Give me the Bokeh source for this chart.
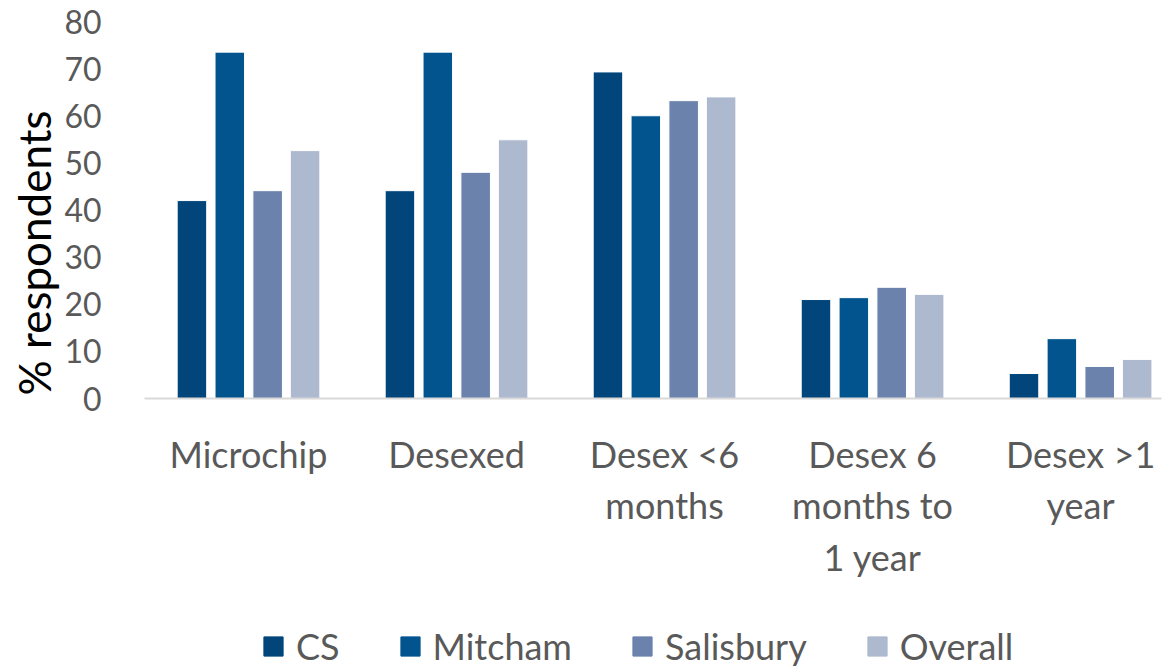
from bokeh.plotting import figure
from bokeh.models import ColumnDataSource, FixedTicker, Legend, LegendItem, Title
from bokeh.transform import dodge
from bokeh.layouts import column
from bokeh.embed import file_html
from bokeh.resources import INLINE

categories = ["Microchip", "Desexed", "Desex <6\nmonths", "Desex 6\nmonths to\n1 year", "Desex >1\nyear"]
series = ["CS", "Mitcham", "Salisbury", "Overall"]
cs = [42.0, 44.1, 69.3, 21.0, 5.3]
mitcham = [73.5, 73.5, 60.0, 21.4, 12.7]
salisbury = [44.1, 48.0, 63.2, 23.6, 6.8]
overall = [52.6, 54.9, 64.0, 22.1, 8.3]
colors = ["#01457A", "#02548F", "#6B82AD", "#ADB9CE"]

xpos = [i + 0.5 for i in range(len(categories))]
src = ColumnDataSource(dict(x=xpos, CS=cs, Mitcham=mitcham, Salisbury=salisbury, Overall=overall))

FONT = "Lato"
TXT = "#595959"

p = figure(width=1165, height=606, x_range=(0, 4.889), y_range=(0, 80),
           output_backend="svg", toolbar_location=None,
           min_border_left=144, min_border_top=21, min_border_right=4, min_border_bottom=208)
p.outline_line_color = None
p.grid.visible = False

offsets = [-0.272, -0.090, 0.092, 0.272]
for s, c, off in zip(series, colors, offsets):
    p.vbar(x=dodge("x", off), top=s, width=0.142, source=src,
           fill_color=c, line_color="white", line_width=1)

# x axis
p.xaxis.ticker = FixedTicker(ticks=xpos)
p.xaxis.major_label_overrides = {x: c for x, c in zip(xpos, categories)}
p.xaxis.axis_line_color = "#D9D9D9"
p.xaxis.axis_line_width = 2
p.xaxis.major_tick_line_color = None
p.xaxis.minor_tick_line_color = None
p.xaxis.major_label_text_font = FONT
p.xaxis.major_label_text_font_size = "36px"
p.xaxis.major_label_text_color = TXT
p.xaxis.major_label_standoff = 27
p.xaxis.major_label_text_line_height = 1.18

# y axis
p.yaxis.ticker = FixedTicker(ticks=list(range(0, 81, 10)))
p.yaxis.axis_line_color = None
p.yaxis.major_tick_line_color = None
p.yaxis.minor_tick_line_color = None
p.yaxis.major_label_text_font = FONT
p.yaxis.major_label_text_font_size = "32px"
p.yaxis.major_label_text_color = TXT
p.yaxis.major_label_standoff = 37

ytitle = Title(text="% respondents", align="left", offset=3,
               text_font=FONT, text_font_size="44px", text_font_style="normal",
               text_color="#000000", standoff=4)
p.add_layout(ytitle, "left")

# legend strip below the chart (same side borders so frames align)
p2 = figure(width=1165, height=62, x_range=(0, 1), y_range=(0, 1),
            output_backend="svg", toolbar_location=None,
            x_axis_type=None, y_axis_type=None,
            min_border_left=144, min_border_right=4, min_border_top=19, min_border_bottom=0)
p2.outline_line_color = None
p2.grid.visible = False
items = []
for s, c in zip(series, colors):
    r = p2.rect(x=[-10], y=[-10], width=1, height=1, fill_color=c, line_color=c)
    items.append(LegendItem(label=s, renderers=[r]))

legend = Legend(items=items, orientation="horizontal", location=(117, 0))
legend.border_line_color = None
legend.background_fill_alpha = 0
legend.padding = 0
legend.margin = 0
legend.spacing = 58
legend.label_standoff = 11
legend.glyph_width = 24
legend.glyph_height = 24
legend.label_text_font = FONT
legend.label_text_font_size = "36px"
legend.label_text_color = TXT
p2.add_layout(legend, "center")

layout = column(p, p2, spacing=0)
open("out.html", "w").write(file_html(layout, INLINE))
